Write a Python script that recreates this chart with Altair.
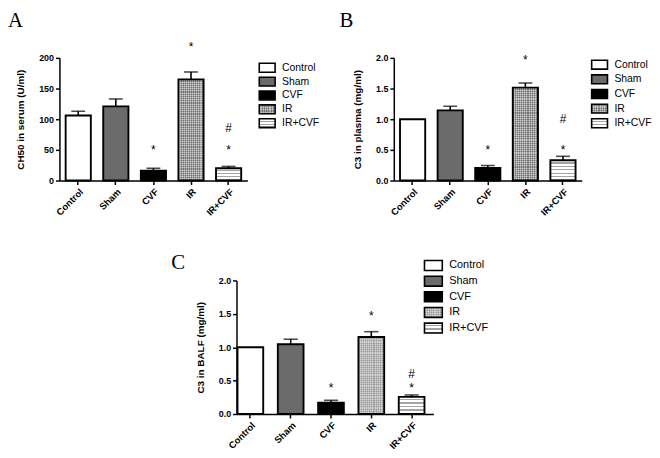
import altair as alt
import pandas as pd

# ---------------- data ----------------
categories = ["Control", "Sham", "CVF", "IR", "IR+CVF"]
panel_letters = ["A", "B", "C"]

a_mean = [106, 121, 16, 165, 20]
a_upper = [113, 133, 20, 177, 23]
b_mean = [1.0, 1.145, 0.205, 1.515, 0.33]
b_upper = [1.0, 1.21, 0.245, 1.59, 0.395]
c_mean = [1.0, 1.045, 0.168, 1.153, 0.257]
c_upper = [1.0, 1.12, 0.205, 1.233, 0.285]

a_ticks = [0, 50, 100, 150, 200]
bc_ticks = [0.0, 0.5, 1.0, 1.5, 2.0]

a_title = "CH50 in serum (U/ml)"
b_title = "C3 in plasma (mg/ml)"
c_title = "C3 in BALF (mg/ml)"

mark_cats = ["CVF", "IR", "IR+CVF", "IR+CVF"]
mark_labels = ["*", "*", "#", "*"]
a_mark_y = [54, 222, 90, 54]
b_mark_y = [0.54, 2.01, 1.05, 0.55]
c_mark_y = [0.43, 1.51, 0.645, 0.43]

FONT = "Liberation Sans"


# ---------------- fills ----------------
def stripes(n, c1, c2, frac=0.5, vertical=False):
    n = max(1, int(round(n)))
    stops = []
    for i in range(n):
        a = i / n
        m = (i + frac) / n
        b = (i + 1) / n
        stops += [alt.GradientStop(offset=a, color=c1), alt.GradientStop(offset=m, color=c1),
                  alt.GradientStop(offset=m, color=c2), alt.GradientStop(offset=b, color=c2)]
    if vertical:
        return alt.LinearGradient(gradient="linear", stops=stops, x1=0, y1=0, x2=1, y2=0)
    return alt.LinearGradient(gradient="linear", stops=stops, x1=0, y1=0, x2=0, y2=1)


def fills_for(cat, w, h, light_ir=False):
    if cat == "Control":
        return ["white"]
    if cat == "Sham":
        return ["#6b6b6b"]
    if cat == "CVF":
        return ["black"]
    if cat == "IR":
        if light_ir:
            return [stripes(w / 2.2, "#a2a2a2", "#c6c6c6", vertical=True),
                    stripes(h / 2.2, "rgba(255,255,255,0.25)", "rgba(0,0,0,0.06)")]
        return [stripes(w / 2.2, "#7c7c7c", "#b8b8b8", vertical=True),
                stripes(h / 2.2, "rgba(255,255,255,0.28)", "rgba(0,0,0,0.10)")]
    return [stripes(h / 3.5, "white", "#a4a4a4", frac=0.62)]


# ---------------- panel builder ----------------
def panel(letter, means, uppers, ticks, fmt, ymax, title, mark_y,
          width, height, pi, po, align, letter_xy,
          leg_x, leg_w, leg_h, leg_range, leg_font, light_ir=False):
    df = pd.DataFrame({"cat": categories, "mean": means, "upper": uppers})
    ann = pd.DataFrame({"cat": mark_cats, "yv": mark_y, "label": mark_labels})

    xaxis = alt.Axis(title=None, labelAngle=-45, labelFontSize=9.5, labelPadding=2,
                     tickSize=4)
    xenc = alt.X("cat:N", sort=categories,
                 scale=alt.Scale(domain=categories, paddingInner=pi, paddingOuter=po, align=align),
                 axis=xaxis)
    yscale = alt.Scale(domain=[0, ymax], nice=False, zero=True)
    yaxis = alt.Axis(title=title, values=ticks, format=fmt, tickSize=4, titlePadding=13)

    def Y(field):
        return alt.Y(field, scale=yscale, axis=yaxis)

    step = width / (len(categories) - pi + 2 * po)
    barw = step * (1 - pi)

    base = alt.Chart(df)
    layers = []
    err = base.transform_filter("datum.upper > datum.mean")
    layers.append(err.mark_rule(color="black", strokeWidth=1.6).encode(
        x=xenc, y=Y("mean:Q"), y2="upper:Q"))
    layers.append(err.mark_tick(color="black", thickness=1.6, size=barw * 0.55).encode(
        x=xenc, y=Y("upper:Q")))
    for cat, m in zip(categories, means):
        h = m / ymax * height
        fl = fills_for(cat, barw, h, light_ir)
        for k, f in enumerate(fl):
            last = k == len(fl) - 1
            kw = dict(fill=f, stroke="black", strokeWidth=1.9) if last else dict(fill=f, strokeWidth=0)
            layers.append(base.transform_filter(alt.datum.cat == cat).mark_bar(**kw).encode(
                x=xenc, y=Y("mean:Q")))
    layers.append(alt.Chart(ann).mark_text(font=FONT, fontSize=12, baseline="middle",
                                           color="black", dy=3).encode(
        x=xenc, y=Y("yv:Q"), text="label:N"))
    main = alt.layer(*layers)

    leg_df = pd.DataFrame({"cat": categories})
    lpi = 1 - leg_h / ((leg_range[1] - leg_range[0]) / len(categories))
    ly = alt.Y("cat:N", sort=categories,
               scale=alt.Scale(type="band", domain=categories, range=leg_range,
                               paddingInner=lpi, paddingOuter=lpi / 2),
               axis=None)
    llayers = []
    for cat in categories:
        fl = fills_for(cat, leg_w, leg_h, light_ir)
        for k, f in enumerate(fl):
            last = k == len(fl) - 1
            kw = dict(fill=f, stroke="black", strokeWidth=1.6) if last else dict(fill=f, strokeWidth=0)
            llayers.append(alt.Chart(leg_df).transform_filter(alt.datum.cat == cat).mark_rect(**kw).encode(
                x=alt.value(leg_x), x2=alt.value(leg_x + leg_w), y=ly))
    llayers.append(alt.Chart(leg_df).mark_text(font=FONT, fontSize=leg_font, align="left",
                                               baseline="middle", color="black").encode(
        x=alt.value(leg_x + leg_w + 7), y=ly, text="cat:N"))
    llayers.append(alt.Chart(pd.DataFrame({"t": [letter]})).mark_text(
        font="Liberation Serif", fontSize=21, align="left", baseline="top", color="black").encode(
        x=alt.value(letter_xy[0]), y=alt.value(letter_xy[1]), text="t:N"))
    legend = alt.layer(*llayers)

    return alt.layer(main, legend).resolve_scale(y="independent").properties(width=width, height=height)


A = panel(panel_letters[0], a_mean, a_upper, a_ticks, "d", 200, a_title, a_mark_y,
          190, 124, 0.33, 0.165, 0.5, (-52, -48),
          202, 16, 9, [3, 73], 10.5)
B = panel(panel_letters[1], b_mean, b_upper, bc_ticks, ".1f", 2.0, b_title, b_mark_y,
          190, 124, 0.33, 0.165, 0.5, (-55, -48),
          200, 16, 9, [-0.5, 73.5], 10.5)
C = panel(panel_letters[2], c_mean, c_upper, bc_ticks, ".1f", 2.0, c_title, c_mark_y,
          199, 135, 0.362, 0.1226, 0.1, (-66, -29),
          190, 18, 10, [-23, 56], 11, light_ir=True)

spacer = alt.Chart(pd.DataFrame({"v": [0]})).mark_point(opacity=0).encode(
    x=alt.value(0), y=alt.value(0)).properties(width=169, height=10)

row1 = alt.hconcat(A, B, spacing=148, bounds="flush")
row2 = alt.hconcat(spacer, C, spacing=10, bounds="flush")

# nested flush groups report zero height, so the row gap includes row 1's plot height (124)
chart = alt.vconcat(row1, row2, spacing=101 + 124, bounds="flush").properties(
    padding=0
).configure_view(stroke=None).configure_axis(
    grid=False, domainColor="black", domainWidth=1.5, tickColor="black", tickWidth=1.5,
    labelFont=FONT, labelFontWeight="bold", labelFontSize=9, labelColor="black",
    titleFont=FONT, titleFontWeight="bold", titleFontSize=10, titleColor="black",
).configure_axisY(labelPadding=2)

chart.save("out.html", embed_options={"renderer": "svg", "actions": False})
